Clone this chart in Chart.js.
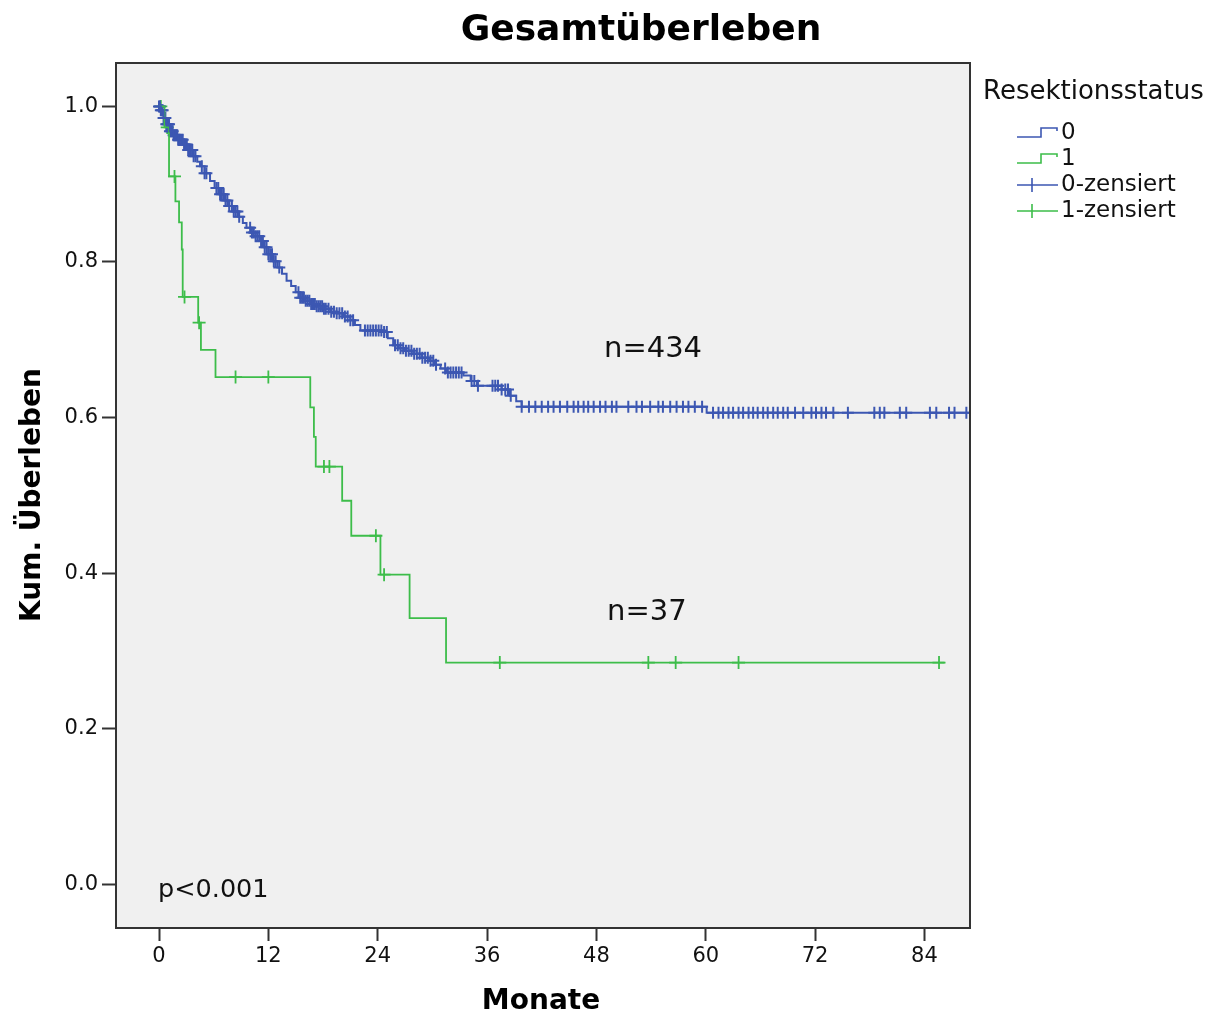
<!DOCTYPE html>
<html>
<head>
<meta charset="utf-8">
<script src="https://cdn.jsdelivr.net/npm/chart.js"></script>
<style>
  html, body { margin: 0; padding: 0; background: #fff; }
  #km { display: block; }
</style>
</head>
<body>
<canvas id="km" width="1220" height="1019"></canvas>
<script>
// Kaplan-Meier Daten
const xTicks = [0, 12, 24, 36, 48, 60, 72, 84];
const yTicks = [0.0, 0.2, 0.4, 0.6, 0.8, 1.0];

// Resektionsstatus 0: [Monat, Überleben]
const curve0 = [
  [0, 1.0], [0.2, 0.995], [0.5, 0.985], [0.8, 0.977], [1.2, 0.968], [1.6, 0.963],
  [2.1, 0.957], [2.7, 0.951], [3.2, 0.944], [3.8, 0.936], [4.2, 0.929], [4.5, 0.923],
  [5.0, 0.914], [5.6, 0.904], [6.1, 0.895], [6.7, 0.887], [7.2, 0.879], [7.7, 0.872],
  [8.2, 0.865], [8.7, 0.858], [9.2, 0.850], [9.6, 0.844], [10.1, 0.838], [10.6, 0.833],
  [11.1, 0.827], [11.5, 0.819], [12.0, 0.810], [12.5, 0.801], [13.0, 0.793], [13.5, 0.785],
  [14.0, 0.776], [14.5, 0.769], [15.0, 0.761], [15.5, 0.754], [16.0, 0.750], [16.6, 0.746],
  [17.3, 0.743], [18.0, 0.740], [18.8, 0.736], [19.5, 0.734], [20.3, 0.730], [21.0, 0.725],
  [21.5, 0.719], [22.1, 0.712], [24.6, 0.710], [25.1, 0.702], [25.7, 0.693], [26.3, 0.689],
  [27.0, 0.686], [27.9, 0.682], [28.8, 0.677], [29.7, 0.673], [30.2, 0.668], [30.9, 0.663],
  [31.6, 0.658], [33.4, 0.654], [34.2, 0.647], [34.9, 0.641], [37.6, 0.636], [38.5, 0.628],
  [39.2, 0.621], [39.8, 0.614], [60.1, 0.606], [89.5, 0.606]
];
// Resektionsstatus 1
const curve1 = [
  [0, 1.0], [0.6, 0.973], [1.1, 0.910], [1.8, 0.878], [2.2, 0.851], [2.5, 0.816],
  [2.6, 0.755], [4.3, 0.722], [4.6, 0.687], [6.2, 0.652], [16.6, 0.613], [17.0, 0.575],
  [17.2, 0.537], [20.1, 0.493], [21.1, 0.448], [24.3, 0.398], [27.5, 0.342], [31.5, 0.285],
  [86.2, 0.285]
];

// zensierte Fälle (Monate)
const censored0 = [
  0.0, 0.1, 0.2, 0.3, 0.4, 0.5, 0.6, 0.7, 0.8, 0.9, 1.0, 1.1, 1.2, 1.3, 1.4, 1.5, 1.6, 1.7,
  1.8, 1.9, 2.0, 2.1, 2.2, 2.3, 2.45, 2.6, 2.75, 2.9, 3.05, 3.2, 3.35, 3.5, 3.65, 3.8, 4.0,
  4.7, 5.0, 5.2, 6.3, 6.5, 6.7, 6.9, 7.1, 7.3, 7.5, 7.7, 8.0, 8.2, 8.4, 8.6, 8.8,
  10.0, 10.2, 10.4, 10.6, 10.8, 11.0, 11.2, 11.4, 11.6, 11.8, 12.0, 12.2, 12.4, 12.6, 12.8,
  13.2, 15.3, 15.5, 15.7, 15.9, 16.1, 16.3, 16.5, 16.7, 16.9, 17.1, 17.3, 17.5, 17.7, 17.9,
  18.1, 18.3, 18.6, 18.9, 19.2, 19.5, 19.8, 20.1, 20.4, 20.7, 21.0, 21.3,
  22.6, 22.9, 23.2, 23.5, 23.8, 24.1, 24.4, 24.7, 25.0,
  25.9, 26.2, 26.5, 26.8, 27.1, 27.4, 27.7, 28.0, 28.3, 28.6, 28.9, 29.2, 29.5, 29.8, 30.1,
  30.4, 31.4, 31.7, 32.0, 32.3, 32.6, 32.9, 33.2, 34.3, 34.6, 35.0, 36.6, 36.9, 37.2, 37.6,
  38.0, 38.3, 38.6,
  39.8, 40.6, 41.3, 42.0, 42.7, 43.3, 44.0, 44.8, 45.5, 46.0, 46.6, 47.1, 47.7, 48.4, 49.0,
  49.7, 50.2, 51.5, 52.4, 53.0, 53.9, 54.8, 55.3, 56.1, 56.8, 57.5, 58.1, 58.8, 59.6,
  60.8, 61.4, 61.9, 62.5, 63.0, 63.6, 64.1, 64.7, 65.2, 65.7, 66.3, 66.8, 67.4, 67.9, 68.5,
  69.0, 69.8, 70.7, 71.6, 72.1, 72.7, 73.2, 74.0, 75.6, 78.5, 79.1, 79.6, 81.3, 82.0, 84.6,
  85.3, 86.7, 87.3, 88.6
];
const censored1 = [0.2, 0.9, 1.7, 2.8, 4.4, 8.4, 12.0, 18.1, 18.7, 23.8, 24.7, 37.4, 53.7, 56.7, 63.6, 85.6];

const blue = '#3c57b2';
const green = '#3dbd4a';
const frame = '#333333';
const font = '"DejaVu Sans", sans-serif';

function toPoints(curve) {
  return curve.map(([x, y]) => ({ x, y }));
}

// Überleben zum Zeitpunkt t (Treppenfunktion)
function survivalAt(curve, t) {
  let s = curve[0][1];
  for (const [x, y] of curve) {
    if (x <= t) s = y; else break;
  }
  return s;
}

function censorPoints(times, curve) {
  return times.map(t => ({ x: t, y: survivalAt(curve, t) }));
}

const backgroundPlugin = {
  id: 'plotBackground',
  beforeDatasetsDraw(chart) {
    const { ctx, chartArea: a } = chart;
    ctx.save();
    ctx.fillStyle = '#f0f0f0';
    ctx.fillRect(a.left, a.top, a.right - a.left, a.bottom - a.top);
    ctx.restore();
  },
  afterDraw(chart) {
    const { ctx, chartArea: a } = chart;
    ctx.save();
    ctx.strokeStyle = frame;
    ctx.lineWidth = 2;
    ctx.strokeRect(a.left, a.top, a.right - a.left, a.bottom - a.top);
    ctx.restore();
  }
};

// Titel, Achsentitel, Annotationen und SPSS-artige Legende
const textPlugin = {
  id: 'texts',
  afterDraw(chart) {
    const { ctx } = chart;
    ctx.save();
    ctx.fillStyle = '#000';
    ctx.textBaseline = 'middle';

    ctx.font = 'bold 36px ' + font;
    ctx.textAlign = 'center';
    ctx.fillText('Gesamtüberleben', 641, 31);

    ctx.font = 'bold 28px ' + font;
    ctx.fillText('Monate', 541, 1002);
    ctx.save();
    ctx.translate(33, 495);
    ctx.rotate(-Math.PI / 2);
    ctx.fillText('Kum. Überleben', 0, 0);
    ctx.restore();

    ctx.textAlign = 'left';
    ctx.fillStyle = '#111';
    ctx.font = '29px ' + font;
    ctx.fillText('n=434', 604, 349);
    ctx.fillText('n=37', 607, 612);
    ctx.font = '25.5px ' + font;
    ctx.fillText('p<0.001', 158, 890);

    // Legende
    ctx.font = '26px ' + font;
    ctx.fillText('Resektionsstatus', 983, 92);
    ctx.font = '23px ' + font;
    const items = [
      { label: '0', color: blue, y: 133, type: 'step' },
      { label: '1', color: green, y: 159, type: 'step' },
      { label: '0-zensiert', color: blue, y: 185, type: 'cross' },
      { label: '1-zensiert', color: green, y: 211, type: 'cross' }
    ];
    items.forEach(it => {
      ctx.strokeStyle = it.color;
      ctx.lineWidth = 1.6;
      ctx.beginPath();
      if (it.type === 'step') {
        ctx.moveTo(1017, it.y + 4);
        ctx.lineTo(1041, it.y + 4);
        ctx.lineTo(1041, it.y - 5);
        ctx.lineTo(1057, it.y - 5);
        ctx.lineTo(1057, it.y - 2);
      } else {
        ctx.moveTo(1017, it.y);
        ctx.lineTo(1058, it.y);
        ctx.moveTo(1032, it.y - 7);
        ctx.lineTo(1032, it.y + 7);
      }
      ctx.stroke();
      ctx.fillStyle = '#111';
      ctx.fillText(it.label, 1061, it.y);
    });
    ctx.restore();
  }
};

const tickFont = { family: font, size: 21 };

new Chart(document.getElementById('km'), {
  type: 'scatter',
  data: {
    datasets: [
      {
        label: '0',
        data: toPoints(curve0),
        showLine: true,
        stepped: true,
        borderColor: blue,
        borderWidth: 2,
        pointRadius: 0,
        fill: false
      },
      {
        label: '1',
        data: toPoints(curve1),
        showLine: true,
        stepped: true,
        borderColor: green,
        borderWidth: 1.8,
        pointRadius: 0,
        fill: false
      },
      {
        label: '0-zensiert',
        data: censorPoints(censored0, curve0),
        showLine: false,
        pointStyle: 'cross',
        pointRadius: 6,
        borderColor: blue,
        borderWidth: 2
      },
      {
        label: '1-zensiert',
        data: censorPoints(censored1, curve1),
        showLine: false,
        pointStyle: 'cross',
        pointRadius: 6.5,
        borderColor: green,
        borderWidth: 1.8
      }
    ]
  },
  plugins: [backgroundPlugin, textPlugin],
  options: {
    responsive: false,
    animation: false,
    layout: { padding: { left: 0, top: 63, right: 250, bottom: 0 } },
    plugins: {
      legend: { display: false },
      title: { display: false },
      tooltip: { enabled: false }
    },
    scales: {
      x: {
        type: 'linear',
        min: -4.72,
        max: 89.0,
        afterBuildTicks: s => { s.ticks = xTicks.map(v => ({ value: v })); },
        afterFit: s => { s.height = 91; },
        border: { display: false },
        grid: { drawOnChartArea: false, drawTicks: true, tickLength: 13, tickWidth: 2, tickColor: frame },
        ticks: { font: tickFont, color: '#111', padding: 3, maxRotation: 0 }
      },
      y: {
        type: 'linear',
        min: -0.0563,
        max: 1.0558,
        afterBuildTicks: s => { s.ticks = yTicks.map(v => ({ value: v })); },
        afterFit: s => { s.width = 116; },
        border: { display: false },
        grid: { drawOnChartArea: false, drawTicks: true, tickLength: 14, tickWidth: 2, tickColor: frame },
        ticks: { font: tickFont, color: '#111', padding: 4, callback: v => v.toFixed(1) }
      }
    }
  }
});
</script>
</body>
</html>
